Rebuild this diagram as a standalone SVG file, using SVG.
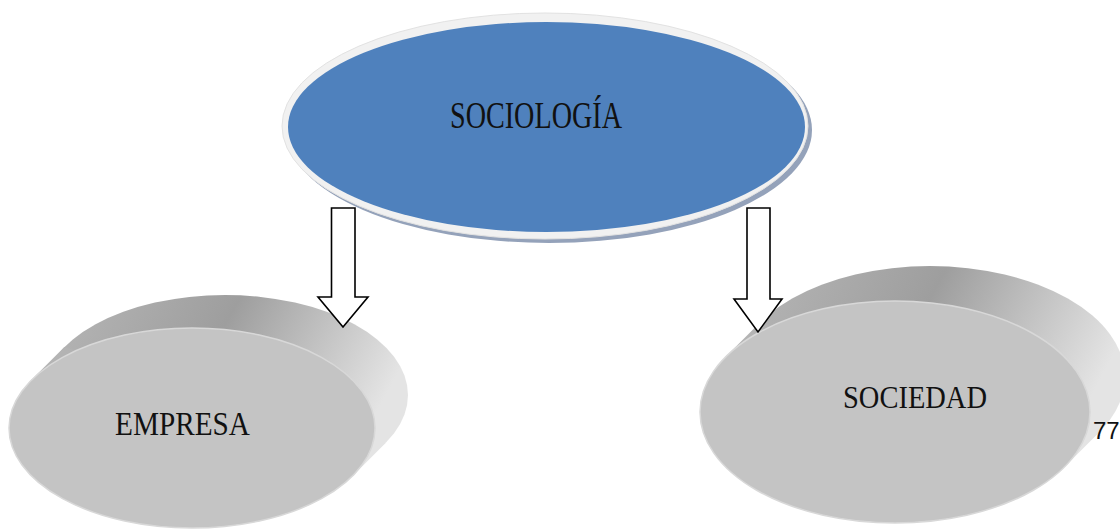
<svg xmlns="http://www.w3.org/2000/svg" width="1120" height="529" viewBox="0 0 1120 529">
<defs>
<style>
.lbl{font-family:"Liberation Serif","Times New Roman",serif;fill:#111;}
.arrow{fill:#fff;stroke:#000;stroke-width:1.6;stroke-linejoin:miter;}
.front{fill:#c4c4c4;stroke:#d8d8d8;stroke-width:1.5;}
</style>
<linearGradient id="side" x1="0" y1="0" x2="1" y2="0.3">
<stop offset="0" stop-color="#b8b8b8"/>
<stop offset="0.5" stop-color="#9e9e9e"/>
<stop offset="1" stop-color="#e4e4e4"/>
</linearGradient>
</defs>
<rect width="1120" height="529" fill="#fff"/>

<g id="node-sociologia">
<ellipse cx="549" cy="130" rx="263" ry="113" fill="#94a2ba"/>
<ellipse cx="545" cy="126" rx="263" ry="113" fill="#f1f1f1" stroke="#e2e2e2" stroke-width="1"/>
<ellipse cx="546.5" cy="127" rx="258.5" ry="105" fill="#4f81bd"/>
<text class="lbl" x="450" y="128" font-size="37" textLength="172" lengthAdjust="spacingAndGlyphs">SOCIOLOGÍA</text>
</g>

<g id="node-empresa">
<ellipse cx="225" cy="395" rx="183" ry="100" fill="url(#side)"/>
<polygon points="352.6,475.9 385.6,442.9 64.4,347.1 31.4,380.1" fill="url(#side)"/>
<ellipse class="front" cx="192" cy="428" rx="183" ry="100"/>
<text class="lbl" x="115" y="435" font-size="33" textLength="135" lengthAdjust="spacingAndGlyphs">EMPRESA</text>
</g>

<g id="node-sociedad">
<ellipse cx="930" cy="377" rx="195" ry="111" fill="url(#side)"/>
<polygon points="1064.5,466.9 1099.5,431.9 760.5,322.1 725.5,357.1" fill="url(#side)"/>
<ellipse class="front" cx="895" cy="412" rx="195" ry="111"/>
<text class="lbl" x="843" y="408" font-size="32" textLength="144" lengthAdjust="spacingAndGlyphs">SOCIEDAD</text>
</g>

<text x="1093" y="439" font-size="24" font-family="Liberation Sans, Arial, sans-serif" fill="#111">77</text>

<g id="connectors">
<polygon class="arrow" points="331.5,208 355,208 355,297 368,297 343,327 318,297 331.5,297"/>
<polygon class="arrow" points="747,208 770,208 770,299 782,299 758,332 734,299 747,299"/>
</g>
</svg>
